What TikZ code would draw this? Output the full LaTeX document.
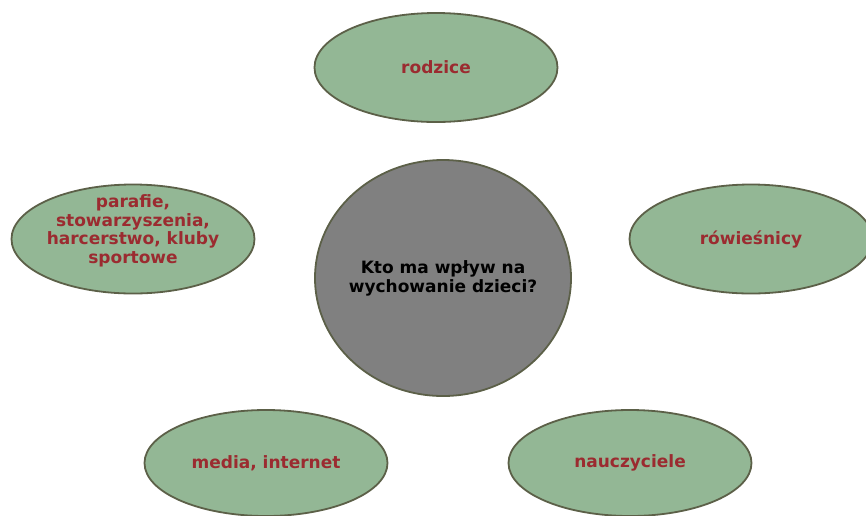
\documentclass[tikz,border=0pt]{standalone}
\usepackage{fontspec}
\setmainfont{DejaVu Sans}
\usetikzlibrary{shapes.geometric}
\definecolor{bubblefill}{RGB}{147,183,149}
\definecolor{bubbleline}{RGB}{92,96,72}
\definecolor{bubbletext}{RGB}{155,43,48}
\definecolor{corefill}{RGB}{128,128,128}
\tikzset{
  bubble/.style={ellipse, draw=bubbleline, fill=bubblefill, line width=1.8pt,
    minimum width=243pt, minimum height=109pt, inner sep=0pt,
    text=bubbletext, align=center,
    font=\bfseries\fontsize{17pt}{18.5pt}\selectfont},
  core/.style={ellipse, draw=bubbleline, fill=corefill, line width=1.8pt,
    minimum width=256pt, minimum height=236pt, inner sep=0pt},
  coretext/.style={text=black, align=center, inner sep=0pt,
    font=\bfseries\fontsize{17pt}{19pt}\selectfont}
}
\begin{document}
\begin{tikzpicture}[x=1pt,y=-1pt]
\useasboundingbox (0,0) rectangle (866,515);
\fill[white] (0,0) rectangle (866,515);
\node[core] (core) at (443,278) {};
\node[coretext] (question) at (core.center) {Kto ma wpływ na\\wychowanie dzieci?};
\node[bubble] (rodzice) at (436,67.5) {rodzice};
\node[bubble] (parafie) at (133,239) {};
\node[bubble, fill=none, draw=none] (parafietext) at (133,231) {parafie,\\stowarzyszenia,\\harcerstwo, kluby\\sportowe};
\node[bubble] (rowiesnicy) at (751,239) {rówieśnicy};
\node[bubble, minimum height=106pt] (media) at (266,463) {media, internet};
\node[bubble, minimum height=106pt] (nauczyciele) at (630,463) {nauczyciele};
\end{tikzpicture}
\end{document}
